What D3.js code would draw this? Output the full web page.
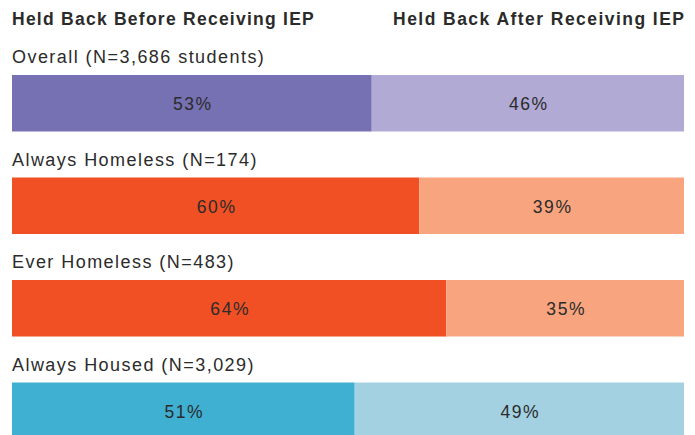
<!DOCTYPE html>
<html><head><meta charset="utf-8">
<script src="https://cdn.jsdelivr.net/npm/d3@7"></script>
<style>body{margin:0;background:#fff}svg{display:block}text{font-family:"Liberation Sans",Arial,sans-serif;fill:#2b2b2b}</style>
</head><body><svg id="c" width="695" height="435"></svg>
<script>
const categories = ["Overall (N=3,686 students)","Always Homeless (N=174)","Ever Homeless (N=483)","Always Housed (N=3,029)"];
const before = [53,60,64,51];
const after = [46,39,35,49];
const seriesNames = ["Held Back Before Receiving IEP","Held Back After Receiving IEP"];
const darkColors = ["#7671B3","#F05023","#F05023","#3FB0D2"];
const lightColors = ["#B0AAD5","#F8A57F","#F8A57F","#A3D1E2"];

const svg = d3.select("#c");
const left = 12, right = 684;
svg.append("text").attr("x",left).attr("y",25).attr("font-size",17.5).attr("font-weight","bold")
  .attr("letter-spacing",1.25).text(seriesNames[0]);
svg.append("text").attr("x",right+1.4).attr("y",25).attr("font-size",17.5).attr("font-weight","bold")
  .attr("letter-spacing",1.45).attr("text-anchor","end").text(seriesNames[1]);

const y = d3.scaleLinear().domain([0,1]).range([75,177.5]);
const bh = 56.5;
categories.forEach((c,i)=>{
  const total = before[i]+after[i];
  const x = d3.scaleLinear().domain([0,total]).range([left,right]);
  const top = y(i);
  const g = svg.append("g");
  g.append("text").attr("x",left).attr("y",top-12).attr("font-size",18).attr("letter-spacing",1.45).text(c);
  g.append("rect").attr("x",x(0)).attr("y",top).attr("width",x(before[i])-x(0)).attr("height",bh).attr("fill",darkColors[i]);
  g.append("rect").attr("x",x(before[i])).attr("y",top).attr("width",x(total)-x(before[i])).attr("height",bh).attr("fill",lightColors[i]);
  g.append("text").attr("x",(x(0)+x(before[i]))/2+1).attr("y",top+35).attr("font-size",17.5).attr("letter-spacing",1.6).attr("text-anchor","middle").text(before[i]+"%");
  g.append("text").attr("x",(x(before[i])+x(total))/2+1).attr("y",top+35).attr("font-size",17.5).attr("letter-spacing",1.6).attr("text-anchor","middle").text(after[i]+"%");
});
</script></body></html>
